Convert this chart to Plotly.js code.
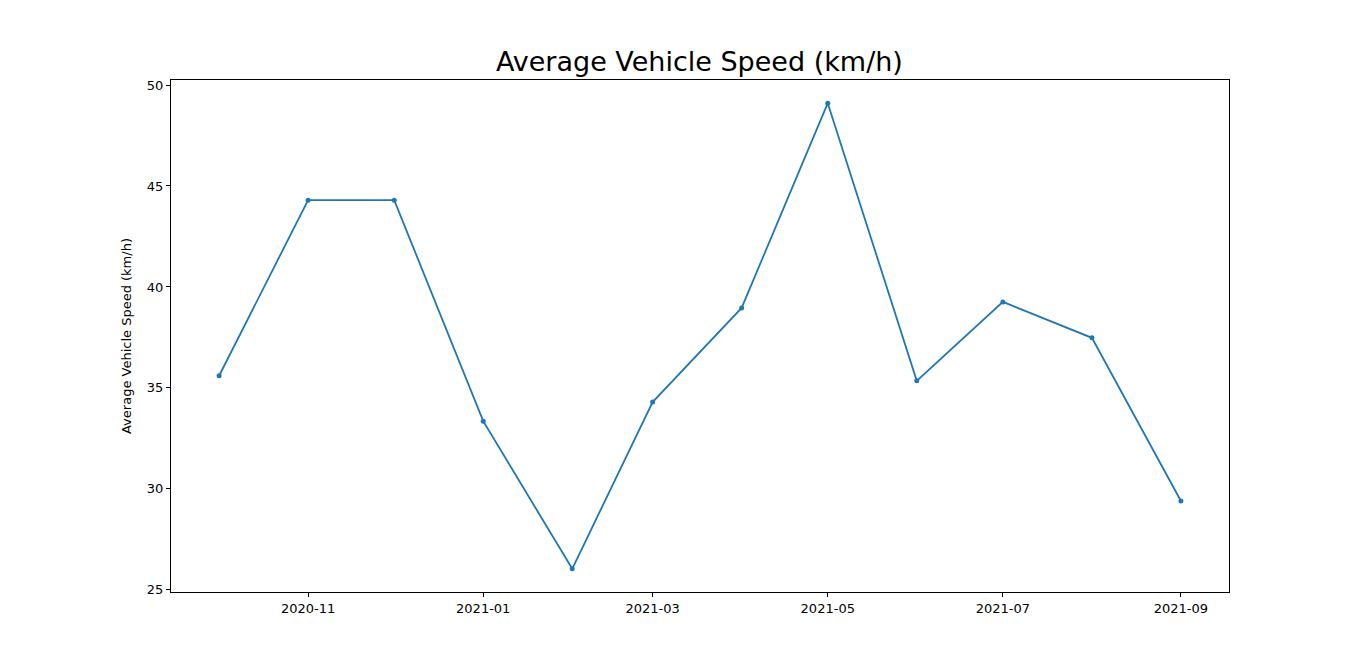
<!DOCTYPE html>
<html>
<head>
<meta charset="utf-8">
<script src="https://cdn.plot.ly/plotly-3.0.1.min.js"></script>
<style>body{margin:0;background:#fff}#chart{width:1366px;height:665px}</style>
</head>
<body>
<div id="chart"></div>
<script>
// monthly averages
var months = ['2020-10-01','2020-11-01','2020-12-01','2021-01-01','2021-02-01','2021-03-01',
              '2021-04-01','2021-05-01','2021-06-01','2021-07-01','2021-08-01','2021-09-01'];
var speed = [35.6, 44.3, 44.3, 33.35, 26.04, 34.3, 38.96, 49.1, 35.35, 39.26, 37.48, 29.4];
var tickDates = ['2020-11-01','2021-01-01','2021-03-01','2021-05-01','2021-07-01','2021-09-01'];
var tickText = ['2020-11','2021-01','2021-03','2021-05','2021-07','2021-09'];

var trace = {
    x: months,
    y: speed,
    type: 'scatter',
    mode: 'lines+markers',
    line: {color: '#1f77b4', width: 1.8},
    marker: {color: '#1f77b4', size: 5}
};

var axisStyle = {
    showgrid: false, zeroline: false, showline: true, mirror: true,
    linecolor: 'black', linewidth: 1, ticks: 'outside', ticklen: 4,
    tickcolor: 'black', tickfont: {size: 13, color: 'black'}
};

var layout = {
    width: 1366, height: 665,
    margin: {l: 171, r: 137, t: 80, b: 73},
    paper_bgcolor: 'white', plot_bgcolor: 'white',
    font: {family: 'DejaVu Sans', color: 'black'},
    showlegend: false,
    title: {text: 'Average Vehicle Speed (km/h)', font: {size: 27}, x: 0.512, xanchor: 'center', y: 0.907, yanchor: 'middle'},
    xaxis: Object.assign({}, axisStyle, {
        type: 'date',
        range: ['2020-09-14 06:00', '2021-09-17 18:00'],
        tickvals: tickDates, ticktext: tickText
    }),
    yaxis: Object.assign({}, axisStyle, {
        range: [24.89, 50.25],
        tickvals: [25, 30, 35, 40, 45, 50],
        title: {text: 'Average Vehicle Speed (km/h)', font: {size: 13}, standoff: 12}
    })
};

Plotly.newPlot('chart', [trace], layout, {displayModeBar: false});
</script>
</body>
</html>
